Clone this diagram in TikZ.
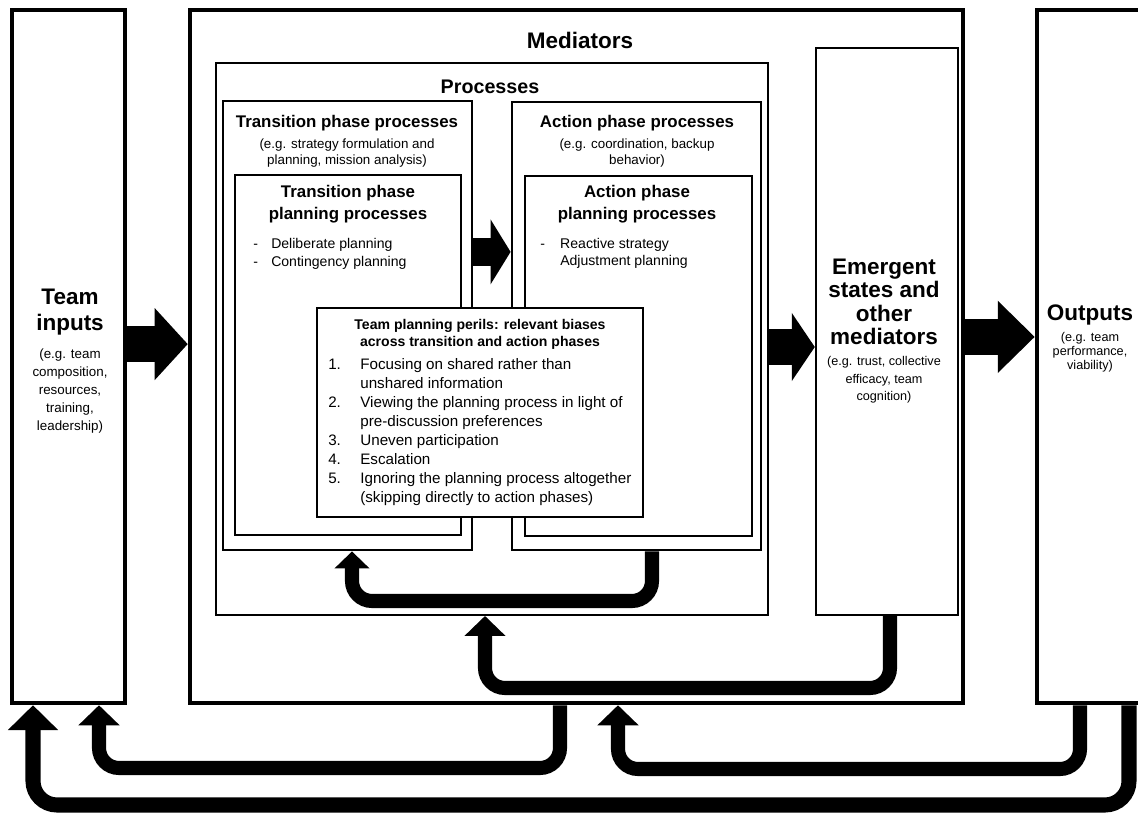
\documentclass[tikz,border=0pt]{standalone}
\usepackage{fontspec}
\setmainfont{Liberation Sans}
\usetikzlibrary{arrows.meta, positioning, fit}
\tikzstyle{heavybox} = [draw=black, line width=3.2pt, inner sep=0pt]
\tikzstyle{midbox} = [draw=black, line width=2pt, inner sep=0pt]
\tikzstyle{thinbox} = [draw=black, line width=1.4pt, inner sep=0pt]
\tikzstyle{txt} = [inner sep=0pt, align=center]
\tikzstyle{listtxt} = [inner sep=0pt, anchor=north west]
\tikzstyle{bigarrow} = [line width=26pt, -{Triangle[length=0.825cm, width=1.75cm]}]
\tikzstyle{feedback} = [line width=10pt, rounded corners=0.5cm, -{Triangle[length=0.5cm, width=1cm]}]

\begin{document}
\begin{tikzpicture}[x=0.025cm, y=-0.025cm]
                \useasboundingbox (0,0) rectangle (1138,814);
                \clip (0,0) rectangle (1138,814);
                \node (inputs) [heavybox, fit={(12,10) (125,703)}] {};
                \node (mediators) [heavybox, fit={(190,10) (963,703)}] {};
                \node (outputs) [heavybox, fit={(1037,10) (1220,703)}] {};
                \node (processes) [thinbox, fit={(216,63) (768,615)}] {};
                \node (transition) [midbox, fit={(223,101) (472,550)}] {};
                \node (tplan) [midbox, fit={(235,175) (461,535)}] {};
                \node (action) [midbox, fit={(512,102) (761,550)}] {};
                \node (aplan) [midbox, fit={(525,176) (752,536)}] {};
                \node (perils) [midbox, line width=1.7pt, fill=white, fit={(317,308) (643,517)}] {};
                \node (emergent) [midbox, line width=1.7pt, fit={(816,48) (958,615)}] {};

                \node (medtitle) [txt, font=\fontsize{16}{19}\bfseries] at (580,40) {Mediators};
                \node (proctitle) [txt, font=\fontsize{14}{17}\bfseries] at (490,87) {Processes};

                \node (trtitle) [txt, font=\fontsize{12}{14}\bfseries] at (347,123) {Transition phase processes};
                \node (trsub) [txt, font=\fontsize{9.5}{12}\selectfont] at (347,153) {(e.g. strategy formulation and\\planning, mission analysis)};
                \node (actitle) [txt, font=\fontsize{12}{14}\bfseries] at (637,123) {Action phase processes};
                \node (acsub) [txt, font=\fontsize{9.5}{12}\selectfont] at (637,153) {(e.g. coordination, backup\\behavior)};

                \node (tptitle) [txt, font=\fontsize{12}{15.5}\bfseries] at (348,204) {Transition phase\\planning processes};
                \node (tplist) [listtxt, font=\fontsize{10}{12.8}\selectfont] at (253,236)
                    {\begin{tabular}{@{}p{12.8pt}@{}l@{}}- & Deliberate planning\\- & Contingency planning\end{tabular}};
                \node (aptitle) [txt, font=\fontsize{12}{15.5}\bfseries] at (637,204) {Action phase\\planning processes};
                \node (aplist) [listtxt, font=\fontsize{10}{12.2}\selectfont] at (540,236)
                    {\begin{tabular}{@{}p{14.2pt}@{}l@{}}- & Reactive strategy\\ & Adjustment planning\end{tabular}};

                \node (periltitle) [txt, font=\fontsize{10}{12}\bfseries] at (480,334.5) {Team planning perils: relevant biases\\across transition and action phases};
                \node (perillist) [listtxt, font=\fontsize{10.8}{13.5}\selectfont] at (328,356)
                    {\begin{tabular}{@{}p{22.8pt}@{}l@{}}
                    1. & Focusing on shared rather than\\
                       & unshared information\\
                    2. & Viewing the planning process in light of\\
                       & pre-discussion preferences\\
                    3. & Uneven participation\\
                    4. & Escalation\\
                    5. & Ignoring the planning process altogether\\
                       & (skipping directly to action phases)
                    \end{tabular}};

                \node (intitle) [txt, font=\fontsize{16}{18.5}\bfseries] at (70,312) {Team\\inputs};
                \node (insub) [txt, font=\fontsize{9.5}{12.8}\selectfont] at (70,391) {(e.g. team\\composition,\\resources,\\training,\\leadership)};

                \node (emtitle) [txt, font=\fontsize{16}{16.6}\bfseries] at (884,302) {Emergent\\states and\\other\\mediators};
                \node (emsub) [txt, font=\fontsize{9}{12.4}\selectfont] at (884,380) {(e.g. trust, collective\\efficacy, team\\cognition)};

                \node (outtitle) [txt, font=\fontsize{16}{19}\bfseries] at (1090,315) {Outputs};
                \node (outsub) [txt, font=\fontsize{9}{9.8}\selectfont] at (1090,352) {(e.g. team\\performance,\\viability)};

                \coordinate (a1) at ([yshift=0.31cm]inputs.east);
                \coordinate (a2) at ([yshift=-0.2cm]processes.east);
                \coordinate (a3) at ([yshift=0.49cm]mediators.east);
                \coordinate (a4) at ([yshift=1.84cm]transition.east);
                \draw [bigarrow] (a1) -- (a1 -| mediators.west);
                \draw [bigarrow, line width=25pt, -{Triangle[length=0.575cm, width=1.675cm]}] (a2) -- (a2 -| emergent.west);
                \draw [bigarrow, -{Triangle[length=0.925cm, width=1.75cm]}] (a3) -- (a3 -| outputs.west);
                \draw [bigarrow, line width=20pt, -{Triangle[length=0.5cm, width=1.6cm]}] (a4) -- (a4 -| action.west);

                \coordinate (l1a) at (652,601);
                \coordinate (l1b) at (352,601);
                \coordinate (l2a) at (890,688);
                \coordinate (l2b) at (485,688);
                \coordinate (l3a) at (560,768);
                \coordinate (l3b) at (99,768);
                \coordinate (l4a) at (1080,769);
                \coordinate (l4b) at (618,769);
                \coordinate (l5a) at (1129,805);
                \coordinate (l5b) at (33,805);
                \draw [feedback, -{Triangle[length=0.425cm, width=0.85cm]}] (l1a |- action.south) -- (l1a) -- (l1b) -- (l1b |- transition.south);
                \draw [feedback] (l2a |- emergent.south) -- (l2a) -- (l2b) -- (l2b |- processes.south);
                \draw [feedback] (l3a |- mediators.south) -- (l3a) -- (l3b) -- (l3b |- inputs.south);
                \draw [feedback] (l4a |- outputs.south) -- (l4a) -- (l4b) -- (l4b |- mediators.south);
                \draw [feedback, line width=10.7pt, rounded corners=0.6cm, -{Triangle[length=0.62cm, width=1.22cm]}] (l5a |- outputs.south) -- (l5a) -- (l5b) -- (l5b |- inputs.south);

            \end{tikzpicture}
\end{document}
